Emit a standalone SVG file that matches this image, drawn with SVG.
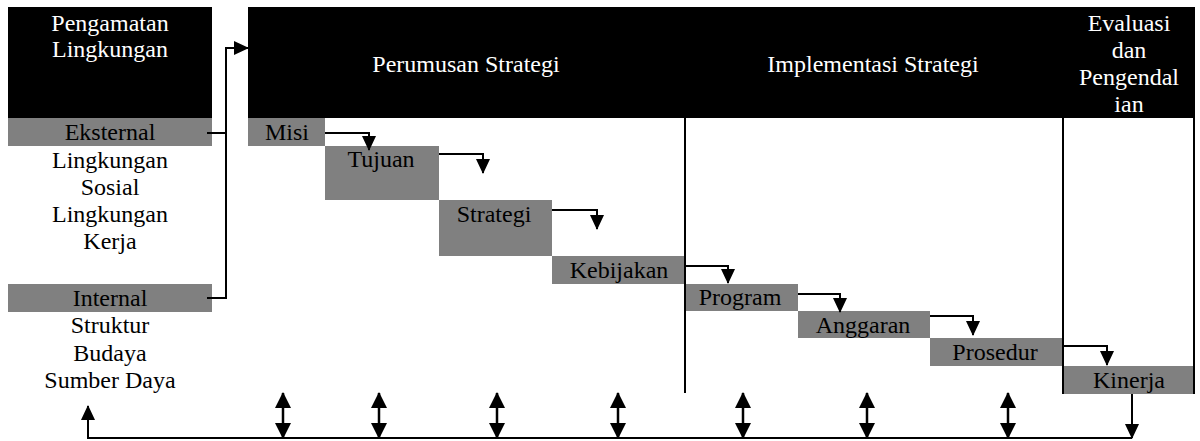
<svg xmlns="http://www.w3.org/2000/svg" width="1200" height="441" viewBox="0 0 1200 441">
<style>
text{font-family:"Liberation Serif","Times New Roman",serif;font-size:24px;fill:#000;text-anchor:middle}
.w{fill:#fff}
.hdr{fill:#000}
.box{fill:#808080}
.ln{fill:none;stroke:#000;stroke-width:2}
.ar{fill:none;stroke:#000;stroke-width:2;marker-end:url(#ah)}
.da{fill:none;stroke:#000;stroke-width:2.5;marker-start:url(#ah2);marker-end:url(#ah2)}
</style>
<defs>
<marker id="ah" markerUnits="userSpaceOnUse" markerWidth="15" markerHeight="14" refX="14" refY="7" orient="auto-start-reverse">
<path d="M0,0 L15,7 L0,14 z" fill="#000"/>
</marker>
<marker id="ah2" markerUnits="userSpaceOnUse" markerWidth="16" markerHeight="16" refX="15" refY="8" orient="auto-start-reverse">
<path d="M0,0 L16,8 L0,16 z" fill="#000"/>
</marker>
</defs>
<rect width="1200" height="441" fill="#fff"/>

<g id="pengamatan">
<rect class="hdr" x="8" y="7" width="204" height="111"/>
<text class="w" x="110" y="31">Pengamatan</text>
<text class="w" x="110" y="57">Lingkungan</text>
</g>
<g id="eksternal">
<rect class="box" x="8" y="118" width="204" height="28"/>
<text x="110" y="140">Eksternal</text>
<text x="110" y="168">Lingkungan</text>
<text x="110" y="195">Sosial</text>
<text x="110" y="222">Lingkungan</text>
<text x="110" y="249">Kerja</text>
</g>
<g id="internal">
<rect class="box" x="8" y="284" width="204" height="28"/>
<text x="110" y="306">Internal</text>
<text x="110" y="333">Struktur</text>
<text x="110" y="361">Budaya</text>
<text x="110" y="388">Sumber Daya</text>
</g>

<g id="header">
<rect class="hdr" x="248" y="7" width="947" height="111"/>
<text class="w" x="466" y="72">Perumusan Strategi</text>
<text class="w" x="873" y="72">Implementasi Strategi</text>
<text class="w" x="1129" y="31">Evaluasi</text>
<text class="w" x="1129" y="58">dan</text>
<text class="w" x="1129" y="85">Pengendal</text>
<text class="w" x="1129" y="112">ian</text>
</g>

<g id="misi"><rect class="box" x="248" y="118" width="77" height="28"/><text x="287" y="140">Misi</text></g>
<g id="tujuan"><rect class="box" x="325" y="146" width="114" height="54"/><text x="381" y="167">Tujuan</text></g>
<g id="strategi"><rect class="box" x="439" y="200" width="113" height="56"/><text x="494" y="222">Strategi</text></g>
<g id="kebijakan"><rect class="box" x="552" y="256" width="133" height="28"/><text x="619" y="278">Kebijakan</text></g>
<g id="program"><rect class="box" x="685" y="284" width="113" height="27"/><text x="740" y="305">Program</text></g>
<g id="anggaran"><rect class="box" x="798" y="311" width="132" height="27"/><text x="863" y="333">Anggaran</text></g>
<g id="prosedur"><rect class="box" x="930" y="338" width="132" height="28"/><text x="995" y="360">Prosedur</text></g>
<g id="kinerja"><rect class="box" x="1062" y="366" width="132" height="28"/><text x="1129" y="388">Kinerja</text></g>

<g id="connectors">
<path class="ln" d="M685,118 V393"/>
<path class="ln" d="M1063,118 V394"/>
<path class="ln" d="M1194,118 V394"/>
<path class="ln" d="M207,133 H226"/>
<path class="ar" d="M207,298 H226 V48 H248"/>
<path class="ar" d="M325,133 H369 V150"/>
<path class="ar" d="M439,154 H483 V173"/>
<path class="ar" d="M552,210 H597 V229"/>
<path class="ar" d="M685,266 H728 V283"/>
<path class="ar" d="M798,294 H840 V312"/>
<path class="ar" d="M930,316 H973 V335"/>
<path class="ar" d="M1062,346 H1107 V365"/>
<path class="ar" d="M1132,394 V438"/>
<path class="ar" d="M1132,438 H88 V406"/>
<path class="da" d="M283,393 V438"/>
<path class="da" d="M379,393 V438"/>
<path class="da" d="M497,393 V438"/>
<path class="da" d="M618,393 V438"/>
<path class="da" d="M743,393 V438"/>
<path class="da" d="M867,393 V438"/>
<path class="da" d="M1008,393 V438"/>
</g>
</svg>
